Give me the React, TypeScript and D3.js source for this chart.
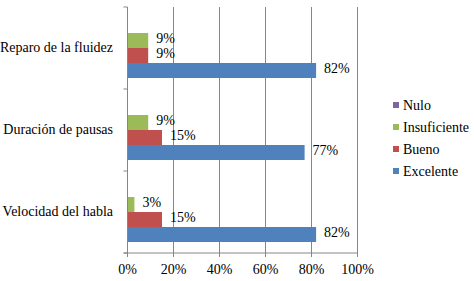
import React from "react";
import * as d3 from "d3";

const categories = ["Reparo de la fluidez", "Duración de pausas", "Velocidad del habla"];
const seriesNames = ["Nulo", "Insuficiente", "Bueno", "Excelente"];
const nulo = [0, 0, 0];
const insuficiente = [9, 9, 3];
const bueno = [9, 15, 15];
const excelente = [82, 77, 82];
const xTicks = [0, 20, 40, 60, 80, 100];
const colors = ["#8064A2", "#9BBB59", "#C0504D", "#4F81BD"];

const W = 474, H = 281;
const left = 127.5, right = 357.5, top = 7, bottom = 253;
const ts: React.CSSProperties = { fontFamily: "Liberation Serif", fontSize: 14 };

export default function App() {
  const seriesVals = [nulo, insuficiente, bueno, excelente];
  const x = d3.scaleLinear().domain([0, 100]).range([left, right]);
  const y = d3.scaleBand<string>().domain(categories).range([top, bottom]).paddingInner(22 / 82).paddingOuter(11 / 82);
  const ys = d3.scaleBand<string>().domain(seriesNames).range([0, y.bandwidth()]);
  const step = y.step();
  const boundaries = d3.range(categories.length + 1).map((i) => top + i * step);

  return (
    <svg width={W} height={H} style={{ position: "absolute", left: 0, top: 0, background: "#fff" }}>
      {xTicks.slice(1).map((t) => (
        <line key={"g" + t} x1={x(t)} x2={x(t)} y1={top} y2={bottom} stroke="#868686" strokeWidth={1} />
      ))}
      {categories.map((c, ci) =>
        seriesNames.map((s, si) => {
          const v = seriesVals[si][ci];
          const yy = (y(c) as number) + (ys(s) as number);
          return (
            <g key={c + s}>
              {v > 0 && <rect x={x(0)} y={yy} width={x(v) - x(0)} height={ys.bandwidth()} fill={colors[si]} />}
              {v > 0 && (
                <text x={x(v) + 8} y={yy + ys.bandwidth() / 2} dy="0.2em" fontFamily="Liberation Serif" fontSize={14} style={ts} fill="#000">
                  {v}%
                </text>
              )}
            </g>
          );
        })
      )}
      <line x1={left} x2={left} y1={top} y2={bottom + 4} stroke="#868686" />
      <line x1={left - 4} x2={right} y1={bottom} y2={bottom} stroke="#868686" />
      {boundaries.map((b) => (
        <line key={"b" + b} x1={left - 4} x2={left} y1={b} y2={b} stroke="#868686" />
      ))}
      {xTicks.map((t) => (
        <g key={"t" + t}>
          <line x1={x(t)} x2={x(t)} y1={bottom} y2={bottom + 4} stroke="#868686" />
          <text x={x(t)} y={269} dy="0.35em" textAnchor="middle" fontFamily="Liberation Serif" fontSize={14} style={ts} fill="#000">
            {t}%
          </text>
        </g>
      ))}
      {categories.map((c) => (
        <text key={"c" + c} x={113} y={(y(c) as number) + y.bandwidth() / 2 - 1} dy="0.35em" textAnchor="end" fontFamily="Liberation Serif" fontSize={14} style={ts} fill="#000">
          {c}
        </text>
      ))}
      {seriesNames.map((s, i) => (
        <g key={"l" + s}>
          <rect x={393} y={102 + i * 22} width={6} height={6} fill={colors[i]} />
          <text x={403} y={105 + i * 22} dy="0.35em" fontFamily="Liberation Serif" fontSize={14} style={ts} fill="#000">
            {s}
          </text>
        </g>
      ))}
    </svg>
  );
}
